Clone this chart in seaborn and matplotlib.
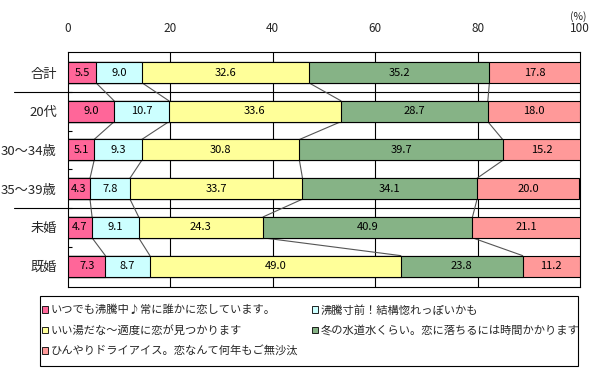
import matplotlib
matplotlib.use("Agg")
import matplotlib.pyplot as plt
import seaborn as sns
import pandas as pd
import numpy as np
from matplotlib.patches import Patch, Rectangle

categories = ["合計", "20代", "30〜34歳", "35〜39歳", "未婚", "既婚"]
series_names = [
    "いつでも沸騰中♪常に誰かに恋しています。",
    "沸騰寸前！結構惚れっぽいかも",
    "いい湯だな〜適度に恋が見つかります",
    "冬の水道水くらい。恋に落ちるには時間かかります",
    "ひんやりドライアイス。恋なんて何年もご無沙汰",
]
s1 = [5.5, 9.0, 5.1, 4.3, 4.7, 7.3]
s2 = [9.0, 10.7, 9.3, 7.8, 9.1, 8.7]
s3 = [32.6, 33.6, 30.8, 33.7, 24.3, 49.0]
s4 = [35.2, 28.7, 39.7, 34.1, 40.9, 23.8]
s5 = [17.8, 18.0, 15.2, 20.0, 21.1, 11.2]
colors = ["#FF6699", "#CCFFFF", "#FFFF99", "#86B386", "#FF9999"]
xticks = [0, 20, 40, 60, 80, 100]

sns.set_theme(style="white")
plt.rcParams["font.family"] = ["Noto Sans CJK JP", "DejaVu Sans"]

series = [s1, s2, s3, s4, s5]
vals = np.array(series)
cum = np.cumsum(vals, axis=0)

fig = plt.figure(figsize=(6.0, 3.72), dpi=100)
ax = fig.add_axes([68/600, 1-287/372, 512/600, 235/372])

bar_h = 0.54
# draw cumulative totals back to front
for k in range(len(series) - 1, -1, -1):
    df = pd.DataFrame({"cat": categories, "val": cum[k]})
    sns.barplot(data=df, x="val", y="cat", orient="h", color=colors[k],
                saturation=1, width=bar_h, edgecolor="black", linewidth=0.8,
                ax=ax, zorder=3)

# labels
for k in range(len(series)):
    for i in range(len(categories)):
        center = cum[k][i] - vals[k][i] / 2
        ax.text(center, i, f"{vals[k][i]:.1f}", ha="center", va="center",
                fontsize=8, color="black", zorder=5)

# series lines
for k in range(len(series) - 1):
    for i in range(len(categories) - 1):
        ax.plot([cum[k][i], cum[k][i+1]], [i + bar_h/2, i + 1 - bar_h/2],
                color="#555555", linewidth=0.8, zorder=2)

ax.set_xlim(0, 100)
ax.set_ylim(5.54, -0.53)
ax.xaxis.tick_top()
ax.set_xticks(xticks)
ax.set_xticklabels([str(t) for t in xticks], fontsize=8.5)
ax.tick_params(axis="x", length=0, pad=12)
ax.tick_params(axis="y", length=0, labelsize=9.5, pad=8)
ax.set_xlabel("")
ax.set_ylabel("")
for x in xticks[1:-1]:
    ax.axvline(x, color="black", linewidth=0.8, zorder=1)
for sp in ax.spines.values():
    sp.set_color("black")
    sp.set_linewidth(0.8)

ax.set_yticks(np.arange(0.5, 5, 1.0), minor=True)
ax.tick_params(axis="y", which="minor", direction="in", length=3, color="black",
               width=0.8, left=True)

# separators
x_left = (14/600 - 68/600) / (512/600)
for yb in [0.5, 3.5]:
    ax.plot([x_left, 1.0], [yb, yb], transform=ax.get_yaxis_transform(),
            color="black", linewidth=0.8, clip_on=False, zorder=1)

fig.text(578/600, 1-17/372, "(%)", ha="center", va="center", fontsize=7.5)

# legend frame
fig.add_artist(Rectangle((40/600, 1-366/372), 538/600, 70/372,
                         transform=fig.transFigure, facecolor="white",
                         edgecolor="black", linewidth=0.8, zorder=0))

handles = [Patch(facecolor=c, edgecolor="black", linewidth=0.6) for c in colors]
common = dict(loc="upper left", fontsize=8.1, frameon=False,
              handlelength=0.55, handleheight=0.55, handletextpad=0.2,
              borderpad=0, labelspacing=0.85, borderaxespad=0)
leg1 = fig.legend([handles[i] for i in [0, 2, 4]], [series_names[i] for i in [0, 2, 4]],
                  bbox_to_anchor=(42/600, 1-305/372), **common)
leg2 = fig.legend([handles[i] for i in [1, 3]], [series_names[i] for i in [1, 3]],
                  bbox_to_anchor=(312/600, 1-305/372), **common)

fig.savefig("out.png", dpi=100)
